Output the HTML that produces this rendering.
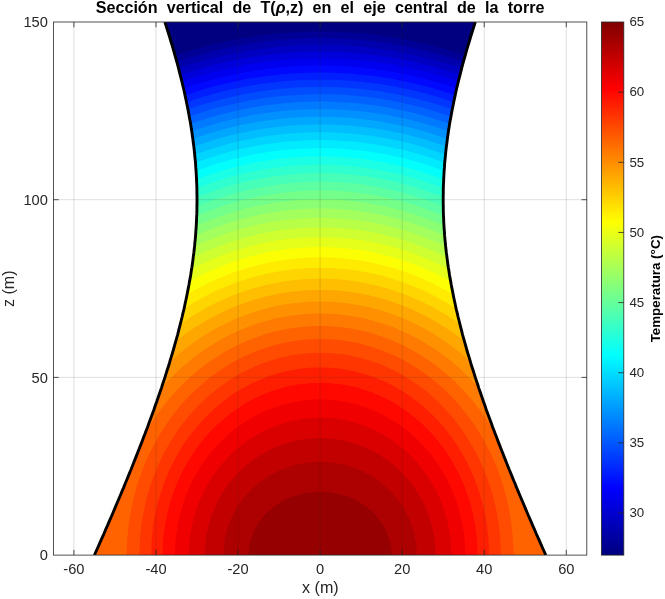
<!DOCTYPE html>
<html lang="es"><head><meta charset="utf-8"><title>Sección vertical de T(ρ,z)</title>
<style>html,body{margin:0;padding:0;background:#fff}svg{display:block}</style></head>
<body>
<svg width="665" height="599" viewBox="0 0 665 599">
<defs><clipPath id="tw"><polygon points="94.4,555.1 96,551.5 97.6,548 99.2,544.4 100.7,540.9 102.3,537.3 103.9,533.8 105.4,530.2 107,526.7 108.5,523.1 110,519.6 111.6,516 113.1,512.5 114.6,508.9 116.1,505.3 117.6,501.8 119.1,498.2 120.6,494.7 122.1,491.1 123.6,487.6 125,484 126.5,480.5 128,476.9 129.4,473.4 130.9,469.8 132.3,466.2 133.7,462.7 135.1,459.1 136.5,455.6 137.9,452 139.3,448.5 140.7,444.9 142.1,441.4 143.4,437.8 144.8,434.3 146.1,430.7 147.5,427.2 148.8,423.6 150.1,420 151.4,416.5 152.7,412.9 154,409.4 155.2,405.8 156.5,402.3 157.7,398.7 158.9,395.2 160.2,391.6 161.4,388.1 162.5,384.5 163.7,381 164.9,377.4 166,373.8 167.1,370.3 168.3,366.7 169.4,363.2 170.4,359.6 171.5,356.1 172.6,352.5 173.6,349 174.6,345.4 175.6,341.9 176.6,338.3 177.6,334.8 178.5,331.2 179.4,327.6 180.3,324.1 181.2,320.5 182.1,317 182.9,313.4 183.8,309.9 184.6,306.3 185.3,302.8 186.1,299.2 186.8,295.7 187.5,292.1 188.2,288.6 188.9,285 189.5,281.4 190.2,277.9 190.8,274.3 191.3,270.8 191.9,267.2 192.4,263.7 192.9,260.1 193.3,256.6 193.8,253 194.2,249.5 194.6,245.9 194.9,242.3 195.3,238.8 195.6,235.2 195.8,231.7 196.1,228.1 196.3,224.6 196.5,221 196.6,217.5 196.8,213.9 196.9,210.4 196.9,206.8 197,203.3 197,199.7 197,196.1 196.9,192.6 196.9,189 196.8,185.5 196.6,181.9 196.5,178.4 196.3,174.8 196.1,171.3 195.8,167.7 195.6,164.2 195.3,160.6 194.9,157.1 194.6,153.5 194.2,149.9 193.8,146.4 193.3,142.8 192.9,139.3 192.4,135.7 191.9,132.2 191.3,128.6 190.8,125.1 190.2,121.5 189.5,118 188.9,114.4 188.2,110.8 187.5,107.3 186.8,103.7 186.1,100.2 185.3,96.6 184.6,93.1 183.8,89.5 182.9,86 182.1,82.4 181.2,78.9 180.3,75.3 179.4,71.8 178.5,68.2 177.6,64.6 176.6,61.1 175.6,57.5 174.6,54 173.6,50.4 172.6,46.9 171.5,43.3 170.4,39.8 169.4,36.2 168.3,32.7 167.1,29.1 166,25.6 164.9,22 475.3,22 474.2,25.6 473.1,29.1 471.9,32.7 470.8,36.2 469.8,39.8 468.7,43.3 467.6,46.9 466.6,50.4 465.6,54 464.6,57.5 463.6,61.1 462.6,64.6 461.7,68.2 460.8,71.8 459.9,75.3 459,78.9 458.1,82.4 457.3,86 456.4,89.5 455.6,93.1 454.9,96.6 454.1,100.2 453.4,103.7 452.7,107.3 452,110.8 451.3,114.4 450.7,118 450,121.5 449.4,125.1 448.9,128.6 448.3,132.2 447.8,135.7 447.3,139.3 446.9,142.8 446.4,146.4 446,149.9 445.6,153.5 445.3,157.1 444.9,160.6 444.6,164.2 444.4,167.7 444.1,171.3 443.9,174.8 443.7,178.4 443.6,181.9 443.4,185.5 443.3,189 443.3,192.6 443.2,196.1 443.2,199.7 443.2,203.3 443.3,206.8 443.3,210.4 443.4,213.9 443.6,217.5 443.7,221 443.9,224.6 444.1,228.1 444.4,231.7 444.6,235.2 444.9,238.8 445.3,242.3 445.6,245.9 446,249.5 446.4,253 446.9,256.6 447.3,260.1 447.8,263.7 448.3,267.2 448.9,270.8 449.4,274.3 450,277.9 450.7,281.4 451.3,285 452,288.6 452.7,292.1 453.4,295.7 454.1,299.2 454.9,302.8 455.6,306.3 456.4,309.9 457.3,313.4 458.1,317 459,320.5 459.9,324.1 460.8,327.6 461.7,331.2 462.6,334.8 463.6,338.3 464.6,341.9 465.6,345.4 466.6,349 467.6,352.5 468.7,356.1 469.8,359.6 470.8,363.2 471.9,366.7 473.1,370.3 474.2,373.8 475.3,377.4 476.5,381 477.7,384.5 478.8,388.1 480,391.6 481.3,395.2 482.5,398.7 483.7,402.3 485,405.8 486.2,409.4 487.5,412.9 488.8,416.5 490.1,420 491.4,423.6 492.7,427.2 494.1,430.7 495.4,434.3 496.8,437.8 498.1,441.4 499.5,444.9 500.9,448.5 502.3,452 503.7,455.6 505.1,459.1 506.5,462.7 507.9,466.2 509.3,469.8 510.8,473.4 512.2,476.9 513.7,480.5 515.2,484 516.6,487.6 518.1,491.1 519.6,494.7 521.1,498.2 522.6,501.8 524.1,505.3 525.6,508.9 527.1,512.5 528.6,516 530.2,519.6 531.7,523.1 533.2,526.7 534.8,530.2 536.3,533.8 537.9,537.3 539.5,540.9 541,544.4 542.6,548 544.2,551.5 545.8,555.1"/></clipPath>
<clipPath id="ax"><rect x="53.4" y="22.0" width="533.4" height="533.1"/></clipPath>
<linearGradient id="jet" x1="0" y1="0" x2="0" y2="1"><stop offset="0.0000" stop-color="#800000"/><stop offset="0.0312" stop-color="#9f0000"/><stop offset="0.0625" stop-color="#bf0000"/><stop offset="0.0938" stop-color="#df0000"/><stop offset="0.1250" stop-color="#ff0000"/><stop offset="0.1562" stop-color="#ff2000"/><stop offset="0.1875" stop-color="#ff4000"/><stop offset="0.2188" stop-color="#ff6000"/><stop offset="0.2500" stop-color="#ff8000"/><stop offset="0.2812" stop-color="#ff9f00"/><stop offset="0.3125" stop-color="#ffbf00"/><stop offset="0.3438" stop-color="#ffdf00"/><stop offset="0.3750" stop-color="#ffff00"/><stop offset="0.4062" stop-color="#dfff20"/><stop offset="0.4375" stop-color="#bfff40"/><stop offset="0.4688" stop-color="#9fff60"/><stop offset="0.5000" stop-color="#80ff80"/><stop offset="0.5312" stop-color="#60ff9f"/><stop offset="0.5625" stop-color="#40ffbf"/><stop offset="0.5938" stop-color="#20ffdf"/><stop offset="0.6250" stop-color="#00ffff"/><stop offset="0.6562" stop-color="#00dfff"/><stop offset="0.6875" stop-color="#00bfff"/><stop offset="0.7188" stop-color="#009fff"/><stop offset="0.7500" stop-color="#0080ff"/><stop offset="0.7812" stop-color="#0060ff"/><stop offset="0.8125" stop-color="#0040ff"/><stop offset="0.8438" stop-color="#0020ff"/><stop offset="0.8750" stop-color="#0000ff"/><stop offset="0.9062" stop-color="#0000df"/><stop offset="0.9375" stop-color="#0000bf"/><stop offset="0.9688" stop-color="#00009f"/><stop offset="1.0000" stop-color="#000080"/></linearGradient></defs>
<rect width="665" height="599" fill="#fff"/>
<g clip-path="url(#ax)"><g clip-path="url(#tw)" shape-rendering="geometricPrecision">
<rect x="53" y="22" width="534" height="534" fill="#000080"/>
<path fill="#000096" d="M73.9,562.2 566.3,562.2 566.3,78.1 558.1,77.4 549.9,76.9 541.7,76.6 523.2,76.1 519.1,75.9 517,75.8 515,75.5 512.9,74.8 504.7,71.1 496.5,67.5 488.3,64.1 480.1,60.9 469.9,57.1 459.6,53.7 451.4,51.1 443.2,48.6 435,46.4 426.8,44.3 418.6,42.4 410.4,40.6 402.2,39 394,37.5 385.5,36.2 377.5,35.1 369.3,34.1 361.1,33.3 352.9,32.6 344.7,32.1 336.5,31.7 328.3,31.5 320.1,31.4 311.9,31.5 303.7,31.7 295.5,32.1 285.2,32.8 277,33.5 266.8,34.6 258.6,35.7 250.3,36.9 242.1,38.2 233.9,39.8 225.4,41.5 217.5,43.3 209.3,45.3 201.1,47.5 192.9,49.8 184.7,52.3 176.5,55 168.3,57.9 159.6,61.1 149.8,64.9 141.6,68.4 133.4,72 127.3,74.8 125.2,75.5 123.2,75.8 119,76.1 102.6,76.5 94.4,76.7 86.2,77.2 78,77.7 73.9,78.1 73.9,562.2Z"/>
<path fill="#0000ad" d="M73.9,562.2 566.3,562.2 566.3,85.5 558.1,84.8 549.9,84.3 541.7,83.9 523.2,83.4 519.1,83.3 517,83.1 515,82.8 512.9,82.1 504.7,78.3 496.5,74.7 488.3,71.2 480.1,68 471.2,64.6 463.7,62 455.5,59.3 447.3,56.8 437,53.8 428.8,51.7 420.6,49.7 412.4,47.8 404.2,46.2 396,44.7 387.8,43.3 379.6,42.1 371.4,41.1 363.2,40.2 355,39.5 346.8,38.9 338.6,38.5 330.4,38.2 322.2,38.1 313.9,38.1 305.7,38.3 297.5,38.7 289.3,39.2 281.1,39.8 272.9,40.6 264.7,41.6 256.5,42.7 248.3,44 240.1,45.4 231.9,47 223.7,48.7 215.5,50.6 207.3,52.7 199.1,55 190.3,57.5 182.6,60 174,62.9 166.2,65.7 158,68.8 149.8,72.1 141.6,75.6 133.4,79.2 127.3,82.1 125.2,82.8 123.2,83.1 119,83.4 102.6,83.8 94.4,84.1 86.2,84.5 78,85.1 73.9,85.5 73.9,562.2Z"/>
<path fill="#0000c3" d="M73.9,562.2 566.3,562.2 566.3,93 558.1,92.3 549.9,91.8 541.7,91.4 523.2,90.9 519.1,90.7 517,90.5 515,90.2 512.9,89.5 504.7,85.6 496.5,81.9 488.3,78.4 480.1,75.1 471.2,71.8 463.7,69.1 455.5,66.3 447.3,63.8 437,60.8 428.8,58.6 420.6,56.6 412.4,54.7 404.2,53 396,51.5 387.8,50.1 379.6,48.9 371.4,47.9 361.1,46.8 352.9,46.1 344.7,45.5 334.5,45.1 326.3,44.9 318,44.8 309.8,44.9 301.6,45.2 293.4,45.6 285.2,46.2 277,47 268.8,47.9 260.6,48.9 252.4,50.1 244.2,51.5 236,53 227.8,54.7 219.6,56.6 211.4,58.6 201.1,61.4 192.9,63.8 184.4,66.4 176.5,69.1 168.3,72 159.6,75.3 149.8,79.3 141.6,82.8 133.4,86.6 127.2,89.5 125.2,90.2 123.2,90.5 119,90.8 102.6,91.2 94.4,91.6 86.2,92 78,92.6 73.9,93 73.9,562.2Z"/>
<path fill="#0000da" d="M73.9,562.2 566.3,562.2 566.3,100.6 558.1,99.9 549.9,99.3 541.7,98.9 523.2,98.4 519.1,98.2 517,98 515,97.7 512.9,97 504.7,93 496.5,89.3 488.3,85.7 480.1,82.4 469.9,78.5 461,75.3 453.4,72.8 443.2,69.6 435,67.2 426.8,65.1 416.5,62.6 408.3,60.8 400.1,59.1 389.9,57.3 381.6,56.1 373.4,55 364.9,54 357,53.2 348.8,52.6 340.6,52.1 332.4,51.8 324.2,51.7 316,51.7 307.8,51.8 299.6,52.1 291.4,52.6 283.2,53.2 275,54 266.8,55 258.6,56.1 248.3,57.7 238,59.5 229.8,61.2 221.6,63.1 213.4,65.1 205.2,67.2 195,70.2 186.8,72.8 178.5,75.5 168.3,79.2 160,82.4 151.3,86 143.1,89.5 135.4,93.1 127.3,97 125.2,97.7 123.2,98 119,98.3 102.6,98.8 94.4,99.1 86.2,99.6 78,100.2 73.9,100.6 73.9,562.2Z"/>
<path fill="#0000f1" d="M73.9,562.2 566.3,562.2 566.3,108.3 558.1,107.6 549.9,107 541.7,106.6 523.2,106 519.1,105.8 516.6,105.5 515,105.2 512.9,104.6 506.8,101.5 498.6,97.7 492.3,94.9 484,91.3 474,87.3 465.6,84.2 457.6,81.4 449.3,78.7 441.1,76.1 430.9,73.2 422.7,71.1 414.5,69.2 406.3,67.4 398.1,65.8 389.9,64.3 379.6,62.7 371.4,61.6 363.2,60.7 355,60 344.7,59.2 336.5,58.8 328.3,58.6 320.1,58.5 311.9,58.6 303.7,58.8 293.4,59.4 285.2,60 277,60.7 268.8,61.6 258.6,63 250.3,64.3 242.1,65.8 233.9,67.4 225.7,69.2 217.5,71.1 207.3,73.8 199.1,76.1 190.2,78.9 182.6,81.4 174.4,84.2 164.2,88.1 156,91.4 147.8,94.9 139.6,98.6 131.4,102.5 127.3,104.6 125.2,105.2 123.2,105.6 119,105.9 102.6,106.4 94.4,106.8 85.7,107.3 78,107.9 73.9,108.3 73.9,562.2Z"/>
<path fill="#0008ff" d="M73.9,562.2 566.3,562.2 566.3,116.1 558.1,115.4 549.9,114.8 541.7,114.3 529.4,113.9 523.2,113.7 519.1,113.5 517,113.3 515,113 512.9,112.3 506.6,109.1 498.6,105.2 490.4,101.5 482.2,98 474,94.7 465,91.3 457.6,88.7 449.3,85.9 441.1,83.4 430.9,80.4 422.7,78.3 414.5,76.3 406.3,74.5 398.1,72.8 389.9,71.4 381.1,70 373.4,68.9 365.2,67.9 357,67.1 346.8,66.3 338.6,65.9 330.4,65.6 322.2,65.5 313.9,65.5 305.7,65.7 297.5,66.1 289.3,66.6 281.1,67.3 272.6,68.2 264.7,69.2 256.5,70.4 248,71.8 240.1,73.2 231.9,74.9 221.6,77.2 213.4,79.3 205.2,81.6 196.3,84.2 188.8,86.6 180.2,89.5 172.4,92.4 164.2,95.5 156,98.9 147.8,102.4 139.6,106.2 133.4,109.2 127.3,112.3 125.2,113 123.2,113.3 119,113.6 102.6,114.2 94.4,114.5 86.2,115.1 78,115.7 73.9,116.1 73.9,562.2Z"/>
<path fill="#001fff" d="M73.9,562.2 566.3,562.2 566.3,124.1 558,123.3 549.9,122.7 541.7,122.2 531.4,121.8 521.2,121.5 517,121.1 515,120.8 512.9,120.1 504.7,115.9 496.5,112 490.2,109.1 482,105.5 473.3,102 465.8,99 457.6,96.1 448.7,93.1 441.1,90.7 432.9,88.3 424.5,86 416.5,84 408.3,82.1 400.1,80.4 391.9,78.8 383.7,77.5 375.5,76.3 367.3,75.3 359.1,74.4 350.9,73.7 342.7,73.2 334.5,72.8 326.3,72.6 318,72.5 309.8,72.7 301.6,73 293.4,73.4 285.2,74 277,74.8 268.8,75.7 260.6,76.9 252.4,78.1 244.2,79.6 236,81.2 227.8,83 219.6,85 211.4,87.1 202.9,89.5 195,92 186.1,94.9 178.5,97.5 170.3,100.6 162.1,103.9 153.9,107.3 145.7,111 137.5,114.9 131.3,118 127.3,120.1 125.2,120.8 123.2,121.1 119,121.5 102.6,122 94.4,122.4 86.2,123 78,123.7 73.9,124.1 73.9,562.2Z"/>
<path fill="#0036ff" d="M73.9,562.2 566.3,562.2 566.3,132.2 558.1,131.3 549.9,130.7 541.7,130.2 531.4,129.8 523.2,129.5 519.1,129.3 517,129.1 514.8,128.6 512.9,128 506.8,124.8 498.6,120.7 492.4,117.8 484.2,114.1 476,110.7 467.6,107.3 459.6,104.3 451.4,101.4 441.1,98.1 432.9,95.6 422.7,92.8 414.5,90.8 406.3,88.9 398.1,87.2 389.9,85.7 379.6,84.1 371.4,82.9 363.2,82 355,81.2 346.8,80.5 338.6,80.1 330.4,79.8 322.2,79.7 313.9,79.7 305.7,79.9 297.5,80.3 289.3,80.8 281.1,81.5 272.9,82.4 264.7,83.5 256.5,84.7 248.3,86.1 239.5,87.7 229.8,89.8 221.6,91.8 213.4,93.9 205.2,96.2 197,98.7 188.8,101.4 180.6,104.3 172.4,107.4 166.2,109.8 158,113.2 149.8,116.9 143.7,119.7 135.5,123.7 129.3,126.9 127.3,128 125.2,128.7 123.2,129.1 119,129.4 102.6,130 94.4,130.5 86.2,131 78,131.7 73.9,132.2 73.9,562.2Z"/>
<path fill="#004dff" d="M73.9,562.2 566.3,562.2 566.3,140.4 558.1,139.5 549.9,138.9 541.7,138.4 531.4,137.9 523.2,137.6 519.1,137.4 517,137.1 515,136.8 512.9,136 504.7,131.7 498.6,128.6 490.4,124.7 482.2,121 474,117.5 465.8,114.2 459.6,111.9 451.4,109 443.2,106.3 435,103.7 426.8,101.4 418.6,99.2 410.4,97.2 402.2,95.4 394,93.8 385.7,92.3 377.5,91 369.3,89.9 361.1,89 352.9,88.2 344.7,87.6 336.5,87.2 328.3,87 320.1,86.9 311.9,87 303.7,87.2 295.5,87.6 287.3,88.2 279.1,89 270.9,89.9 262.7,91 254.5,92.3 246.2,93.8 238,95.4 229.8,97.2 221.6,99.2 213.4,101.4 205.1,103.7 197,106.3 188.6,109.1 180.6,111.9 172.4,115 164.2,118.4 156,121.9 147.8,125.7 141.6,128.6 133.4,132.8 127.3,136 125.2,136.8 123.2,137.1 118.9,137.5 102.6,138.2 94.4,138.6 84.2,139.4 76,140.1 73.9,140.4 73.9,562.2Z"/>
<path fill="#0063ff" d="M73.9,562.2 566.3,562.2 566.3,148.7 558.1,147.9 549.9,147.2 541.7,146.6 531.4,146.2 523.2,145.8 519.1,145.6 517,145.3 515,145 512.9,144.2 506.8,140.9 500.3,137.5 492.4,133.6 484.2,129.8 476,126.2 467.8,122.8 459.6,119.6 453.4,117.4 444.8,114.4 437,111.9 428.8,109.5 420.6,107.2 412.4,105.2 404.2,103.3 396,101.6 387.8,100.1 379.6,98.7 371.4,97.5 363.2,96.6 355,95.7 346.8,95.1 338.6,94.6 330.4,94.3 322.2,94.2 313.9,94.2 305.7,94.5 297.2,94.9 289.3,95.4 281.1,96.1 272.9,97 264.7,98.1 256.5,99.4 248.3,100.8 240.1,102.4 231.9,104.2 223.7,106.2 215.5,108.3 206.7,110.8 199.1,113.2 190.2,116.2 182.6,118.9 174.4,122 166.2,125.3 158,128.9 149.8,132.7 143.5,135.7 135.5,139.8 129.3,143.1 127.3,144.2 125.2,145 123.2,145.3 121.1,145.6 117,145.8 102.6,146.4 94.4,146.9 86.2,147.5 78,148.3 73.9,148.7 73.9,562.2Z"/>
<path fill="#007aff" d="M73.9,562.2 566.3,562.2 566.3,157.2 558.1,156.3 549.9,155.6 541.7,155 531.4,154.5 523.2,154.2 519.1,153.9 516.1,153.5 515,153.3 512.9,152.5 506.8,149.1 500.6,145.9 494.5,142.8 486.3,138.8 478.1,135.1 469.9,131.6 461.7,128.3 455.5,125.9 447.3,123 441.1,120.9 432.9,118.4 424.7,116 416.5,113.8 408.3,111.8 400.1,109.9 391.9,108.3 383.7,106.8 375.1,105.5 367.3,104.5 359.1,103.6 350.9,102.8 342.7,102.2 334.5,101.9 326.3,101.6 318,101.6 309.8,101.7 301.6,102 293.4,102.5 285.2,103.2 277,104 268.8,105 260.6,106.2 252.4,107.5 244.2,109.1 235.9,110.8 227.8,112.7 219.6,114.8 211.4,117.1 202.8,119.7 195,122.3 186.8,125.2 180.6,127.5 172.4,130.7 164.2,134.2 156,137.8 147.8,141.7 141.6,144.8 135.2,148.2 127.3,152.5 125.2,153.3 123.2,153.7 121.1,153.9 117,154.2 102.6,154.8 94.4,155.3 86.2,155.9 78,156.8 73.9,157.2 73.9,562.2Z"/>
<path fill="#0090ff" d="M73.9,562.2 566.3,562.2 566.3,165.9 558.1,165 549.4,164.2 541.7,163.6 531.4,163.1 523.2,162.7 518.9,162.4 517,162.2 515,161.8 512.9,161 504.7,156.4 498.6,153.1 492.4,149.9 484.2,146 476,142.3 467.8,138.7 459.6,135.4 453.4,133.1 445.2,130.2 439.1,128.1 432.9,126.1 426.8,124.3 418.6,122 409.6,119.7 401.9,118 393.3,116.2 385.7,114.8 377.5,113.4 369.3,112.3 361.1,111.3 352.9,110.5 344.7,109.9 336.5,109.4 328.3,109.2 320.1,109.1 311.9,109.2 303.7,109.4 295.5,109.9 287.3,110.5 279.1,111.3 270.9,112.3 262.7,113.4 254.5,114.8 246.2,116.3 238,118 229.8,119.9 221.6,122 215.5,123.7 209.3,125.5 203.2,127.4 197,129.5 188.8,132.3 182.6,134.6 174.4,137.9 166.2,141.4 158,145 151.5,148.2 143.7,152.1 137.5,155.3 131,158.8 127.3,161 125.2,161.8 123.2,162.2 121.1,162.4 117,162.7 102.6,163.4 94.4,163.9 86.2,164.6 78,165.4 73.9,165.9 73.9,562.2Z"/>
<path fill="#00a7ff" d="M73.9,562.2 566.3,562.2 566.3,174.7 558.1,173.7 549.9,173 541.7,172.3 531.4,171.8 523.2,171.4 519.1,171.1 517,170.8 515,170.4 512.8,169.5 506.6,165.9 498.6,161.6 492.4,158.4 486.2,155.3 478.1,151.4 469.9,147.8 461.7,144.3 455.5,141.9 447.3,138.9 441.1,136.7 435,134.7 426.8,132.2 420.6,130.4 412.4,128.2 406.3,126.7 398.1,124.9 389.9,123.2 381.6,121.8 373.4,120.5 365.2,119.4 357,118.5 348.8,117.8 340.6,117.2 332.4,116.9 324.2,116.7 316,116.7 307.8,116.9 299.6,117.2 291.4,117.8 283.2,118.5 275,119.4 266.8,120.5 258.6,121.8 250,123.3 240.1,125.3 231.9,127.2 225.7,128.7 219.6,130.4 213.4,132.2 207.3,134 201.1,136 195,138.1 186.8,141.1 180.6,143.5 172.4,146.9 164.2,150.5 157.7,153.5 149.8,157.3 143.4,160.6 135.5,164.9 129.3,168.4 127.3,169.6 125.2,170.4 123.2,170.8 121.1,171.1 117,171.4 102.6,172.1 94.4,172.6 86.2,173.3 78,174.2 73.9,174.7 73.9,562.2Z"/>
<path fill="#00beff" d="M73.9,562.2 566.3,562.2 566.3,183.7 558.1,182.7 549.9,181.9 541.7,181.2 531.4,180.6 522.4,180.2 519.1,179.9 517,179.6 515,179.2 512.9,178.4 506.8,174.7 500.6,171.3 494,167.7 486.3,163.8 479.8,160.6 471.9,157 465.8,154.3 459.6,151.7 453.4,149.3 445.2,146.2 439.1,144.1 432.9,142.1 426.8,140.1 420.6,138.4 414.5,136.7 408.3,135.1 402.2,133.6 394,131.9 385.7,130.3 377.5,128.9 369.3,127.7 361.1,126.7 352.9,125.8 344.7,125.2 336.5,124.7 328.3,124.5 320.1,124.4 311.9,124.5 303.7,124.7 295.5,125.2 287.3,125.8 279.1,126.7 270.9,127.7 262.7,128.9 253.8,130.4 246.2,131.9 238,133.6 229.4,135.7 221.6,137.8 215.5,139.5 209.3,141.4 203.2,143.4 197,145.5 188.8,148.5 182.6,150.9 176.3,153.5 170.3,156.1 164.2,158.8 156,162.7 149.6,165.9 141.6,170.2 135.5,173.6 129.3,177.1 127.2,178.4 125.2,179.2 123.2,179.6 121.1,179.9 117,180.2 102.6,181 94.4,181.5 86.2,182.3 78,183.2 73.9,183.7 73.9,562.2Z"/>
<path fill="#00d4ff" d="M73.9,562.2 566.3,562.2 566.3,192.9 560.1,192.1 551.9,191.2 543.7,190.5 535.5,189.9 523.2,189.2 519.1,188.9 517,188.6 515,188.2 512.9,187.3 506.8,183.6 500.6,180.1 494.4,176.6 486.3,172.4 480.1,169.3 471.9,165.4 463.7,161.8 455.5,158.4 449.3,156 441.1,153 435,150.9 428.8,148.9 422.7,147 416.5,145.3 410.4,143.6 404.2,142.1 398.1,140.7 389.9,139 381.6,137.5 373.4,136.1 365.2,135 355,133.9 346.8,133.2 338.6,132.7 330.4,132.3 322.2,132.2 313.9,132.2 305.7,132.5 297.5,132.9 289.3,133.5 281.1,134.3 272.9,135.3 264.7,136.5 256.5,137.8 248.3,139.4 240.1,141.1 231.9,143.1 225.7,144.7 219.6,146.4 213.4,148.3 207.3,150.2 201.1,152.3 195,154.5 186.8,157.6 178.5,160.9 170.3,164.5 162.1,168.3 156,171.3 147.8,175.6 141.6,178.9 135.5,182.4 129.3,186.1 127.3,187.3 125.2,188.2 123.2,188.6 119,189.1 102.6,190 94.4,190.6 86.2,191.4 78,192.4 73.9,192.9 73.9,562.2Z"/>
<path fill="#00ebff" d="M73.9,562.2 566.3,562.2 566.3,202.3 558.1,201.2 549.9,200.3 541.7,199.6 531.4,198.9 523.2,198.4 519.1,198.1 517,197.8 515,197.3 512.9,196.5 506.7,192.6 500.6,189 494.4,185.5 487.8,181.9 480.1,178 473.6,174.8 467.8,172.2 461.7,169.4 455.5,166.9 447.3,163.6 441.1,161.3 432.9,158.5 426.8,156.5 420.6,154.6 414.5,152.9 408.3,151.2 402.2,149.7 394,147.9 385.7,146.2 375.5,144.5 367.3,143.3 361.1,142.5 352.9,141.6 344.7,141 336.5,140.5 328.3,140.2 320.1,140.1 311.9,140.2 303.7,140.5 295.5,141 287.3,141.6 279.1,142.5 272.9,143.3 262.7,144.8 253.7,146.4 244.2,148.3 236,150.2 229.8,151.8 223.5,153.5 217.4,155.3 211.4,157.2 205.2,159.2 199.1,161.3 190.9,164.4 184.7,166.9 178.4,169.5 172.4,172.2 166.2,175 158,179 151.9,182.2 145.7,185.5 139.5,189 133.4,192.7 127.3,196.5 125.2,197.3 123.2,197.8 121.1,198.1 117,198.4 102.6,199.3 94.4,199.9 86.2,200.8 80.1,201.5 73.9,202.3 73.9,562.2Z"/>
<path fill="#03fffc" d="M73.9,562.2 566.3,562.2 566.3,212 560.1,211.1 554,210.3 545.8,209.5 537.6,208.8 523.2,207.8 519.1,207.5 517,207.2 515,206.7 512.9,205.8 506.1,201.5 500.2,197.9 494.1,194.4 486.3,190.1 480.1,186.9 473.7,183.7 465.8,180 457.6,176.3 451.4,173.8 445,171.3 439.1,169.1 432.9,166.9 426.8,164.9 420.6,163 414.5,161.2 408.3,159.5 402.2,158 396,156.5 389.9,155.2 383.7,154 377.5,152.9 369.3,151.7 363.2,150.8 355,149.9 346.8,149.2 338.6,148.6 330.4,148.3 322.2,148.2 313.9,148.2 305.7,148.5 297.5,148.9 289.3,149.5 283.2,150.1 277,150.8 268.8,152 262.7,152.9 256.5,154 248.3,155.7 240.1,157.5 233.9,159 227.8,160.6 221.6,162.4 215.5,164.2 209.3,166.2 203.2,168.4 195,171.4 188.8,173.8 180.6,177.2 174,180.2 166.2,183.8 158,187.9 151.9,191.2 145.7,194.6 139.6,198.2 133.4,201.9 127.3,205.8 125.2,206.7 123.2,207.2 121.1,207.5 117,207.8 104.7,208.6 96.5,209.3 88.3,210.1 82.1,210.8 76,211.7 73.9,212 73.9,562.2Z"/>
<path fill="#1affe5" d="M73.9,562.2 566.3,562.2 566.3,221.9 560.1,220.9 554,220.1 545.8,219.2 537.6,218.5 523,217.5 519.1,217.1 517,216.8 515,216.3 512.9,215.4 506.8,211.4 498.6,206.3 492.4,202.7 486.3,199.2 480.1,195.9 473.5,192.6 465.8,188.8 457.6,185.1 449.3,181.7 443.2,179.3 435,176.2 428.8,174.1 422.7,172.1 416.5,170.2 410.4,168.5 404.2,166.9 398.1,165.4 391.9,164 383.7,162.3 377.5,161.2 371.4,160.2 365.2,159.3 359.1,158.6 352.9,157.9 346.8,157.4 340.6,157 334.5,156.6 328.3,156.4 322.2,156.3 316,156.4 309.8,156.5 303.7,156.7 297.5,157.1 291.4,157.5 285.2,158.1 277,159.1 270.9,159.9 264.7,160.9 258.6,161.9 252.4,163.1 246.2,164.4 238,166.4 231.9,167.9 225.7,169.6 219.6,171.5 213.4,173.4 207.3,175.5 199.1,178.5 192.9,180.9 184.7,184.3 176.5,187.9 170.3,190.8 162.1,194.9 156,198.1 149.8,201.5 143.7,205.1 137.5,208.8 131.4,212.7 127.3,215.4 125.2,216.3 123.2,216.8 121.1,217.1 117,217.5 104.7,218.3 96.5,219 90.3,219.6 84.2,220.4 78,221.2 73.9,221.9 73.9,562.2Z"/>
<path fill="#30ffcf" d="M73.9,562.2 566.3,562.2 566.3,232 560.1,231 554,230.2 547.8,229.4 539.6,228.6 523.2,227.4 519.1,227 517,226.6 515,226.1 512.9,225.2 506.8,221 500.6,217.1 494.5,213.3 488.3,209.7 482.2,206.3 476,203 469.4,199.7 461.7,196 453.4,192.3 447.3,189.7 441.1,187.3 435,185 428.8,182.8 422.7,180.8 414.5,178.2 408.3,176.5 401.9,174.8 394,172.9 385.7,171.2 379.6,170 373.4,168.9 367.3,168 361.1,167.2 355,166.5 348.8,165.9 342.7,165.4 336.5,165 330.4,164.8 324.2,164.7 318,164.6 311.9,164.7 305.7,165 299.6,165.3 293.4,165.7 287.3,166.3 281.1,166.9 275,167.7 268.8,168.6 262.7,169.6 256.5,170.8 250.3,172 244.2,173.4 238,174.9 229.8,177.1 223.7,178.9 217.5,180.8 211.4,182.8 203.2,185.7 197,188.1 188.8,191.4 182.1,194.4 176.5,196.9 170.3,199.9 163.7,203.3 156,207.4 149.8,210.9 143.7,214.6 135.5,219.7 127.3,225.2 125.2,226.1 123.2,226.6 121.1,227 117,227.4 104.7,228.3 96.5,229 90.3,229.7 84.2,230.4 78,231.3 73.9,232 73.9,562.2Z"/>
<path fill="#47ffb8" d="M73.9,562.2 566.3,562.2 566.3,242.4 560.1,241.4 554,240.5 547.8,239.7 539,238.8 523.2,237.5 518.8,237 517,236.7 515,236.2 512.9,235.2 506.8,231 499.8,226.4 494.1,222.8 488.2,219.2 482,215.7 475.5,212.1 467.8,208.2 461.3,205 455.5,202.3 449.3,199.7 443.2,197.1 435,193.9 428.8,191.7 420.6,188.9 414.5,187 408.3,185.2 402.2,183.6 394,181.6 387.6,180.2 381.6,179 375.5,177.8 367.3,176.5 361.1,175.7 352.9,174.8 346.8,174.2 340.6,173.7 334.5,173.4 328.3,173.2 322.2,173.1 316,173.1 309.8,173.3 303.7,173.5 297.5,173.9 291.4,174.4 285.2,175 279.1,175.7 270.9,176.8 264.7,177.8 258.6,179 252.4,180.2 244.2,182 236,184.1 229.8,185.8 223.7,187.6 217.5,189.6 211.4,191.7 203.2,194.7 197,197.1 190.7,199.7 184.7,202.3 178.5,205.2 170.3,209.2 164.2,212.4 158,215.8 151.9,219.3 145.7,223 139.6,226.9 131.4,232.4 127.2,235.2 125.2,236.2 123.2,236.7 121.1,237.1 117,237.5 104.7,238.5 96.5,239.3 90.3,240 84.2,240.8 78,241.7 73.9,242.4 73.9,562.2Z"/>
<path fill="#5effa2" d="M73.9,562.2 566.3,562.2 566.3,253.2 560.1,252.1 554,251.1 547.8,250.3 539.6,249.4 523.2,247.9 519.1,247.5 517,247.1 515,246.6 512.9,245.5 506,240.6 500.6,237 494.5,233 488.3,229.1 482.2,225.5 476,222 469.9,218.7 463.7,215.6 455.5,211.7 447.3,208 439.1,204.6 432.9,202.3 424.7,199.3 418.6,197.2 412.4,195.3 406.3,193.5 400.1,191.9 394,190.4 387.8,189 381.6,187.7 375.5,186.5 369.1,185.5 363.2,184.6 355,183.6 348.8,183 342.7,182.5 336.5,182.1 330.4,181.9 324.2,181.7 318,181.7 311.9,181.8 305.7,182 299.6,182.4 293.4,182.8 287.3,183.4 281.1,184.1 275,184.9 268.8,185.9 260.6,187.3 254.5,188.5 248.3,189.9 242.1,191.4 236,193 229.8,194.7 223.7,196.6 217.5,198.6 211.4,200.7 203.2,203.8 195,207.2 186.8,210.7 180,213.9 172.4,217.7 166,221 159.6,224.6 153.5,228.1 147.7,231.7 141.6,235.6 133.4,241.1 127.3,245.5 125.2,246.6 123.2,247.1 121.1,247.5 117,247.9 104.7,249 96.5,249.8 90.3,250.6 84.2,251.4 78,252.4 73.9,253.2 73.9,562.2Z"/>
<path fill="#74ff8b" d="M73.9,562.2 566.3,562.2 566.3,264.2 560.1,263.1 551.9,261.8 545.8,260.9 537.6,260 523.2,258.7 519.1,258.2 517,257.8 515,257.2 512.9,256.2 506.3,251.2 500.6,247.3 492.4,241.8 486.3,237.9 480.1,234.3 474,230.7 467.8,227.4 461.7,224.2 455.1,221 449.3,218.4 443.2,215.7 437,213.2 428.8,210 422.7,207.8 416.5,205.7 410.4,203.8 404.2,202 398.1,200.4 391.9,198.8 385.7,197.5 379.3,196.1 373.4,195.1 367.3,194.1 361.1,193.2 355,192.4 348.8,191.8 342.7,191.3 334.5,190.8 328.3,190.6 322.2,190.5 316,190.5 309.8,190.6 303.7,190.9 297.5,191.3 291.4,191.8 283.2,192.7 277,193.5 270.9,194.4 264.7,195.4 258.6,196.6 252.3,197.9 244.2,199.8 238,201.5 231.7,203.3 225.7,205.1 219.6,207.1 213.4,209.2 205.2,212.3 199.1,214.8 192.9,217.5 186.8,220.3 180.6,223.2 174.4,226.4 167.8,229.9 160.1,234.3 153.9,237.9 147,242.3 141.6,245.9 135.5,250.2 129.1,254.8 127.3,256.2 125.2,257.2 123.2,257.8 119,258.5 101.7,260.1 94.4,260.9 86.2,262.1 80.1,263.1 73.9,264.2 73.9,562.2Z"/>
<path fill="#8bff74" d="M73.9,562.2 566.3,562.2 566.3,275.7 558.1,274.1 551.9,273.1 545.8,272.2 539.6,271.4 531.4,270.6 523.2,269.8 519.1,269.2 517,268.8 515,268.2 512.9,267.1 506.1,261.9 500.6,257.9 493.5,253 488.1,249.5 482.2,245.7 476,242 469.9,238.5 463.7,235.2 456.9,231.7 451.4,229 445.2,226.2 439.1,223.6 432.9,221 426.8,218.7 420.6,216.5 412.4,213.7 406.3,211.9 400.1,210.1 394,208.5 385.7,206.6 377.5,204.9 371.4,203.8 365.2,202.8 359.1,201.9 352.9,201.2 346.8,200.6 340.6,200.1 332.4,199.6 326.3,199.5 320.1,199.4 313.9,199.5 305.7,199.7 299.6,200.1 293.4,200.6 287.3,201.2 281.1,201.9 275,202.8 268.8,203.8 260.6,205.3 252.4,207 245.9,208.6 238,210.7 231.9,212.5 225.7,214.4 219.6,216.5 211.4,219.4 205.2,221.9 198.7,224.6 192.9,227.1 186.8,230 179.8,233.5 172.4,237.4 166.2,240.8 160.1,244.4 153.9,248.3 145.7,253.6 139,258.3 133.4,262.4 129.3,265.5 127.1,267.2 125.2,268.2 123.2,268.8 121.1,269.2 117,269.8 104.7,271 96.5,271.9 90.3,272.8 84.2,273.8 78,274.9 73.9,275.7 73.9,562.2Z"/>
<path fill="#a2ff5e" d="M73.9,562.2 566.3,562.2 566.3,287.6 560.1,286.3 551.9,284.8 545.8,283.9 539.6,283.1 531.4,282.1 523.2,281.3 519.1,280.7 517,280.3 515,279.6 512.9,278.5 506.8,273.6 500.6,268.9 494.5,264.5 488.2,260.1 482.2,256.2 476,252.4 469.9,248.8 463.7,245.4 457.6,242.1 450.9,238.8 445.2,236.1 439.1,233.3 432.9,230.8 426.3,228.1 420.6,226 414.5,223.9 408.3,221.9 402.2,220.1 396,218.4 389.9,216.8 383.7,215.4 375.5,213.7 369.3,212.6 363.2,211.7 357,210.8 350.9,210.1 344.7,209.5 338.6,209.1 332.4,208.8 326.3,208.6 320.1,208.5 313.7,208.6 307.8,208.8 301.6,209.1 295.5,209.5 289.3,210.1 283.2,210.8 277,211.7 270.9,212.6 262.7,214.1 254.5,215.9 246.2,217.9 240.1,219.5 233.9,221.3 227.8,223.2 221.6,225.3 213.4,228.3 207.3,230.8 200.8,233.5 195,236.1 188.8,239 182.2,242.3 174.4,246.5 168.3,250 162.1,253.7 156,257.5 149.4,261.9 143.7,265.9 139.4,269 132.4,274.3 127.3,278.5 125.1,279.7 123.2,280.3 121.1,280.7 117,281.3 104.7,282.6 98.5,283.3 92.4,284.2 86.2,285.2 80.1,286.3 73.9,287.6 73.9,562.2Z"/>
<path fill="#b8ff47" d="M73.9,562.2 566.3,562.2 566.3,300 560.1,298.7 554,297.4 547.8,296.4 541.7,295.4 533.5,294.4 523.2,293.2 519.1,292.6 517,292.1 515,291.4 512.9,290.2 508.8,286.8 504.4,283.2 497.5,277.9 492.4,274.1 486.3,269.8 479.7,265.4 474,261.8 467.8,258.2 461.7,254.7 455.3,251.2 447.3,247.2 440.7,244.1 435,241.6 428.2,238.8 422.7,236.6 416.5,234.4 410.4,232.3 402.2,229.7 396,228 389.7,226.4 381.6,224.5 375.5,223.2 369.3,222.1 362.9,221 357,220.2 350.9,219.5 344.7,218.9 338.6,218.4 332.4,218.1 326.3,217.9 320.1,217.8 313.9,217.9 307.8,218.1 301.6,218.4 295.5,218.9 289.3,219.5 283.2,220.2 277,221.1 270.9,222.1 264.7,223.2 258.1,224.6 252.4,225.9 246.2,227.4 240.1,229.1 233.9,231 225.7,233.7 219.6,235.9 211.4,239 205.2,241.6 199.1,244.3 190.9,248.2 184.7,251.4 178.3,254.8 172.1,258.3 166.1,261.9 160.1,265.7 153.9,269.8 149.8,272.7 142.7,277.9 137.5,281.8 133.4,285.1 129.2,288.6 127.1,290.3 125.2,291.4 123.2,292.1 121.1,292.6 117,293.2 104.7,294.6 96.5,295.7 90.3,296.7 84.2,297.8 77.5,299.2 73.9,300 73.9,562.2Z"/>
<path fill="#cfff30" d="M73.9,562.2 566.3,562.2 566.3,313 560.1,311.5 554,310.2 547.8,309.1 541.7,308 533.5,306.9 523.2,305.6 519.1,304.9 517,304.4 515,303.7 512.9,302.5 506.8,297.1 502.7,293.7 498.5,290.3 491.6,285 486.3,281.1 480.1,276.9 476,274.2 469.9,270.3 463.7,266.6 457.6,263.1 451.4,259.8 445,256.6 439.1,253.7 432.9,251 426.8,248.4 420.5,245.9 414.5,243.7 408.3,241.6 402.2,239.6 396,237.8 389.9,236.2 383.7,234.7 377.5,233.3 371.4,232.1 365.2,231 357,229.8 350.9,229 344.7,228.4 338.6,228 332.4,227.6 326.3,227.4 320.1,227.3 313.9,227.4 307.8,227.6 301.6,228 295.5,228.4 289.3,229 281.1,230.1 275,231 268.8,232.1 260.6,233.7 254,235.2 246.2,237.2 240.1,239 233.9,240.9 227.8,243 221.6,245.2 215.1,247.7 209.3,250.1 202.7,253 197,255.7 190.9,258.7 184.7,262 178.4,265.4 172.4,269 166.2,272.8 160.1,276.9 156,279.7 149.8,284.1 143.7,288.8 139.4,292.1 135.1,295.7 128.9,301 127.3,302.5 125.2,303.7 122.7,304.5 121.1,304.9 117,305.6 104.7,307.2 96.5,308.4 90.3,309.4 84.2,310.6 78,312 73.9,313 73.9,562.2Z"/>
<path fill="#e5ff1a" d="M73.9,562.2 566.3,562.2 566.3,326.7 560.1,325.1 554,323.6 547.6,322.3 541.7,321.3 535.5,320.3 523.2,318.6 519.1,317.8 517,317.3 515,316.6 512.9,315.2 508.8,311.4 504.7,307.8 500.6,304.3 496.5,300.9 492.3,297.4 486.3,292.9 480.1,288.4 474,284.2 466.9,279.7 461.1,276.1 454.9,272.6 447.3,268.5 441.1,265.3 432.9,261.5 424.7,257.9 418.6,255.5 411.9,253 406.3,251.1 400.1,249.1 394,247.3 387.8,245.6 381.6,244.1 375.5,242.8 369.3,241.6 363.2,240.5 357,239.6 350.5,238.8 344.7,238.2 338.6,237.7 332.4,237.4 326.3,237.2 320.1,237.1 313.9,237.2 307.8,237.4 301.6,237.7 295.5,238.2 289.3,238.8 283.2,239.6 276.7,240.6 270.9,241.6 264.7,242.8 258.6,244.1 250.3,246.2 244.2,247.9 238,249.7 231.9,251.8 225.7,253.9 218.9,256.6 213.4,258.8 205.2,262.4 198.8,265.4 190.9,269.5 184.7,272.9 178.5,276.5 172.4,280.2 166.2,284.2 162.1,287 155,292.1 149.8,296 145.7,299.2 141.3,302.8 137.1,306.3 133.1,309.9 129.2,313.4 127.3,315.2 125.2,316.6 123.2,317.3 121.1,317.8 117,318.6 104.7,320.3 98.5,321.3 92.4,322.4 86.2,323.6 80.1,325.1 73.9,326.7 73.9,562.2Z"/>
<path fill="#fcff03" d="M73.9,562.2 566.3,562.2 566.3,341.1 560.1,339.3 554,337.8 547.8,336.4 541.7,335.2 535.5,334.1 523.2,332.2 519.1,331.4 517,330.9 515,330.1 512.9,328.6 508.3,324.1 504.5,320.5 500.6,317 496.5,313.4 492.3,309.9 485.6,304.5 480.1,300.4 476,297.4 469.9,293.2 462.7,288.6 456.9,285 450.7,281.4 443.2,277.4 437,274.3 430.9,271.4 424.7,268.7 418.6,266.1 412.2,263.7 406.3,261.5 400.1,259.5 394,257.6 387.8,255.9 381.6,254.4 375.5,253 369.3,251.7 363.2,250.6 357,249.7 350.9,248.9 344.7,248.2 336.5,247.6 330.4,247.3 324.2,247.1 318,247.1 311.9,247.2 305.7,247.5 299.6,247.9 293.4,248.4 287.3,249.1 281.1,250 272.9,251.3 266.8,252.5 260.6,253.9 254.5,255.4 248.3,257 242.1,258.9 236,260.8 229.8,263 223.3,265.4 217.5,267.8 210.7,270.8 205.2,273.3 199.1,276.3 192.7,279.7 186.4,283.2 180.4,286.8 174.4,290.5 168.3,294.6 164.2,297.5 158,301.9 151.9,306.7 147.8,310 143.7,313.5 139.6,317 135.5,320.8 129.3,326.6 127.3,328.6 125.2,330.1 123.2,330.9 121.1,331.4 117,332.2 104.7,334.1 98.5,335.2 91.8,336.5 86.2,337.8 80.1,339.3 73.9,341.1 73.9,562.2Z"/>
<path fill="#ffeb00" d="M73.9,562.2 566.3,562.2 566.3,356.5 559.3,354.3 551.9,352.3 545.3,350.7 539.6,349.6 533.5,348.4 523.2,346.7 519.1,345.8 517,345.2 515,344.4 512.9,342.8 508.6,338.3 504.7,334.4 498.6,328.6 492.4,323.1 486.3,317.8 480.1,312.9 476,309.8 469.9,305.4 465.8,302.5 459.6,298.5 453.4,294.7 447.3,291.1 441.1,287.7 435,284.6 428.5,281.4 422.7,278.8 416.2,276.1 410.4,273.8 404.2,271.6 398.1,269.5 391.9,267.6 385.7,265.9 379.6,264.4 373.4,263 367.3,261.7 361.1,260.6 355,259.7 348.8,258.9 342.7,258.3 336.5,257.8 330.4,257.5 324.2,257.3 318,257.3 311.9,257.4 305.7,257.7 299.6,258.1 293.4,258.7 287.3,259.4 281.1,260.3 275,261.4 268.8,262.5 262.7,263.9 256.3,265.4 249.8,267.2 243.8,269 238,270.9 231.9,273.1 225.7,275.4 219.6,277.9 213.4,280.6 207.3,283.5 200.9,286.8 194.3,290.3 188.1,293.9 182.3,297.4 176.5,301.2 170.3,305.4 166.2,308.3 161.8,311.7 156,316.2 149.8,321.3 143.7,326.7 138.8,331.2 135.1,334.8 131.4,338.5 127.3,342.8 125.2,344.4 123.2,345.2 121.1,345.8 117,346.7 103.7,349 98.5,350 92.4,351.3 86.2,352.8 80.1,354.5 73.9,356.5 73.9,562.2Z"/>
<path fill="#ffd500" d="M73.9,562.2 566.3,562.2 566.3,373.1 562.2,371.6 558.1,370.2 551.9,368.4 545.6,366.7 539.6,365.4 533.5,364.1 523.2,362.2 519.1,361.2 517,360.6 515,359.6 512.8,357.9 508.1,352.5 504.7,349 499.5,343.6 494,338.3 490.2,334.8 486.2,331.2 482,327.6 477.7,324.1 471.9,319.6 467.8,316.6 463.4,313.4 457.6,309.5 451.4,305.6 445.2,301.9 439.1,298.4 432.9,295.2 426.7,292.1 420.6,289.3 414.5,286.7 408.3,284.2 402.2,282 395.4,279.7 389.6,277.9 383.2,276.1 375.5,274.2 369.3,272.8 363.2,271.7 357,270.6 350.9,269.8 342.7,268.9 336.5,268.4 330.4,268.1 324.2,267.9 318,267.9 311.9,268 305.7,268.3 299.6,268.7 293.4,269.3 287.3,270.1 281.1,271 275,272 268.8,273.3 262.7,274.7 256.5,276.2 250.3,278 244.2,279.9 238,282 231.9,284.2 225.5,286.8 219.6,289.3 213.4,292.1 206.3,295.7 199.1,299.5 192.9,303.1 186.8,306.8 180.6,310.8 176.5,313.6 169.4,318.8 164.2,322.8 160.1,326.1 156,329.5 151.9,333.1 147.8,336.8 141.6,342.7 137.2,347.2 131.4,353.4 127.3,358 125.2,359.6 123.2,360.6 120.4,361.4 117,362.2 106.7,364.1 100.6,365.4 94.4,366.8 87.9,368.5 82,370.3 76,372.3 73.9,373.1 73.9,562.2Z"/>
<path fill="#ffbe00" d="M73.9,562.2 566.3,562.2 566.3,391.2 562.2,389.5 558.1,388 551.9,385.9 545.8,384.1 539.6,382.5 531.4,380.7 523.2,379 521.2,378.5 519.1,378 517,377.3 515,376.2 512.9,374.4 508.1,368.5 502.7,362.3 498.6,357.8 493.5,352.5 488,347.2 484.2,343.6 480.1,340 476,336.5 471.8,333 467.2,329.4 461.7,325.3 457.5,322.3 451.4,318.2 445.2,314.3 439.1,310.7 432.9,307.3 426.8,304.1 420.4,301 414.5,298.4 408,295.7 402.2,293.4 396,291.2 389.9,289.3 383.7,287.4 377.5,285.8 371.4,284.4 365.2,283.1 359.1,282 352.9,281 346.8,280.2 340.6,279.6 334.5,279.1 328.3,278.8 322.2,278.7 316,278.7 309.8,278.9 303.7,279.3 297.5,279.8 291.4,280.5 283.2,281.6 277,282.7 270.9,283.9 264.7,285.3 258.6,286.9 252.4,288.6 246.2,290.6 240.1,292.7 233.9,295 227.8,297.5 221.6,300.2 215.5,303.1 209.1,306.3 202.5,309.9 196.4,313.4 190.7,317 184.7,320.9 180.2,324.1 174.4,328.3 170.3,331.5 166.2,334.8 162,338.3 158,341.9 153.9,345.6 149.8,349.5 145,354.3 141.6,357.9 136.7,363.2 131.4,369.4 127.3,374.4 125.2,376.2 122.8,377.4 121.1,378 119,378.5 112.9,379.9 106.7,381.1 99.7,382.7 92.4,384.7 86.2,386.6 82,388.1 76,390.4 73.9,391.2 73.9,562.2Z"/>
<path fill="#ffa700" d="M73.9,562.2 566.3,562.2 566.3,411.5 561.7,409.4 556,407 551.9,405.5 547.8,404 541.7,402.2 535.4,400.5 527.3,398.7 523.2,397.7 519.1,396.6 517,395.9 515,394.7 512.9,392.7 508.2,386.3 504.1,381 499.7,375.6 496.5,372 491.8,366.7 488.3,363.1 483.1,357.9 477.5,352.5 473.6,349 469.4,345.4 462.9,340.1 457.6,336 453.4,333 447.3,328.8 442.7,325.9 437,322.3 432.9,320 426.8,316.6 420.5,313.4 414.5,310.6 408.3,307.9 402.2,305.4 395.2,302.8 389.9,301 383.7,299.1 377.5,297.4 370.7,295.7 365.2,294.5 359.1,293.3 352.9,292.3 346.8,291.5 340.6,290.8 334,290.3 328.3,290 322.2,289.9 316,289.9 309.8,290.1 303.7,290.5 297.5,291 291.4,291.7 285.2,292.6 277,294.1 270.9,295.4 264.7,296.8 258.6,298.5 252.4,300.3 244.2,303.1 238,305.4 231.3,308.1 225.7,310.6 219.6,313.5 215.5,315.5 209.3,318.8 205.2,321.2 199.1,324.9 194.7,327.6 188.8,331.6 184.4,334.8 178.5,339.1 174.4,342.4 170.3,345.8 166.2,349.3 162.1,353 157.1,357.9 153.5,361.4 149.8,365.2 145.2,370.3 140.5,375.6 135.5,381.8 130.7,388.1 127.3,392.7 125.2,394.7 123.2,395.9 121.1,396.6 119,397.2 114.9,398.2 106.7,400 102.6,401.1 98.1,402.3 92.4,404.1 86.2,406.2 82.1,407.8 78,409.6 73.9,411.5 73.9,562.2Z"/>
<path fill="#ff9100" d="M73.9,562.2 566.3,562.2 566.3,435.1 561.5,432.5 558,430.7 554,428.9 549.9,427.1 545.1,425.4 541.7,424.2 537.6,423 533.1,421.8 523.2,419.5 521.2,418.9 519.1,418.3 517,417.4 515,416.2 512.9,413.8 510.2,409.4 506.6,404.1 502.7,398.4 498.6,392.9 494.5,387.6 490.4,382.7 485.8,377.4 482.2,373.5 477.4,368.5 473.8,365 469.9,361.3 465.8,357.6 461.7,354.1 457.6,350.7 453.1,347.2 447.3,342.9 443.2,340 437,336 430.9,332.2 424.7,328.7 418.6,325.4 414.5,323.4 408.3,320.5 404.2,318.7 398.1,316.2 391.9,313.9 385.2,311.7 379.3,309.9 372.8,308.1 367.3,306.8 361.1,305.5 355,304.4 348.8,303.4 342.7,302.7 336.5,302.1 330.4,301.7 324.2,301.5 318,301.5 311.9,301.6 305.7,302 299.6,302.5 293.4,303.2 287.3,304 281.1,305.1 275,306.3 268.8,307.7 262.7,309.4 256.5,311.2 249.7,313.4 244.2,315.4 240.1,317 233.9,319.6 227.8,322.4 223.7,324.4 219.6,326.5 213.4,329.8 207.3,333.4 201.1,337.3 197,340.1 190.9,344.4 186.8,347.5 182.6,350.7 178.3,354.3 174.1,357.9 170.2,361.4 166.2,365.2 161.1,370.3 157.7,373.8 152.8,379.2 149.8,382.7 145.4,388.1 141.2,393.4 137.3,398.7 133.4,404.3 128.9,411.2 127.3,413.8 125.2,416.2 123.2,417.4 121.1,418.3 119,418.9 112.9,420.4 106.7,421.9 102.6,423 98.5,424.2 94.4,425.6 90.3,427.2 86,428.9 82.1,430.7 78,432.8 73.9,435.1 73.9,562.2Z"/>
<path fill="#ff7a00" d="M73.9,562.2 566.3,562.2 566.3,464.8 562.2,461.9 560.1,460.5 557.9,459.1 554,456.9 549.9,454.8 545.8,453 541.7,451.4 537.6,450.1 531.4,448.3 523.2,446.3 521.2,445.6 519.1,444.9 517,443.9 515,442.3 512.9,439.4 510.3,434.3 506.4,427.2 502.2,420 498.6,414.3 494.1,407.6 490.2,402.3 486.2,396.9 481.8,391.6 477.2,386.3 474,382.7 468.9,377.4 465.3,373.8 461.6,370.3 457.6,366.6 453.4,363.1 449.2,359.6 444.6,356.1 439.1,352 434.7,349 428.8,345.2 422.7,341.5 416.5,338 412.4,335.9 406.3,332.9 402.2,331 398.1,329.2 394,327.6 387.8,325.3 383.7,323.9 377.5,321.9 371.4,320.2 365.2,318.7 359.1,317.3 352.9,316.2 346.1,315.2 340.6,314.6 334.5,314 328.3,313.7 322.2,313.5 316,313.5 309.8,313.8 303.7,314.2 297.5,314.8 291.4,315.6 285.2,316.6 279.1,317.8 272.9,319.1 266.8,320.7 260.6,322.5 254.5,324.5 250.3,326 244.2,328.4 240.1,330.1 236,331.9 229.8,334.8 225.7,336.9 219.6,340.3 213.4,343.9 207.3,347.8 202.9,350.7 197,355 192.9,358.1 188.8,361.4 184.6,365 180.6,368.5 176.5,372.3 171.3,377.4 167.8,381 164.2,384.9 159.9,389.8 155.5,395.2 151.3,400.5 147.4,405.8 143.7,411.2 139.1,418.3 135.5,424.2 132.8,428.9 129,436 127.1,439.6 125.2,442.3 123.2,443.9 121,444.9 119,445.6 114.9,446.8 108.2,448.5 104.7,449.5 100.6,450.7 96.5,452.2 92.4,453.9 88.3,455.8 84.2,458 82.1,459.2 78,461.9 73.9,464.8 73.9,562.2Z"/>
<path fill="#ff6300" d="M73.9,562.2 566.3,562.2 566.3,512.4 563.8,508.9 562.2,506.8 559.3,503.6 557.5,501.8 555.7,500 553.6,498.2 551.3,496.5 547.8,494.1 545.8,492.8 541.7,490.7 537.6,488.8 533.5,487.2 527.3,485.1 523.2,483.5 520.6,482.2 519.1,481.4 517,479.8 515,477.4 512.9,473.2 510.4,466.2 508.3,460.9 506.1,455.6 503.7,450.3 500.3,443.1 497.5,437.8 494.5,432.4 491.4,427.2 488.1,421.8 484.2,416.1 479.4,409.4 475.4,404.1 471,398.7 467.8,395 463.1,389.8 459.6,386.2 455.5,382.1 450.4,377.4 445.2,372.9 439.1,367.9 435,364.7 430.4,361.4 424.7,357.6 418.6,353.7 412.4,350.2 406.3,346.9 402.2,344.9 398.1,343 394,341.2 389.9,339.5 385.7,337.9 381.6,336.4 375.5,334.4 369.3,332.6 363.2,331.1 357,329.7 350.9,328.6 344.7,327.6 338.6,326.9 332.4,326.4 326.3,326.1 320.1,326 313.9,326.1 307.8,326.4 301.6,326.9 295.5,327.7 289.3,328.6 283.2,329.7 276.4,331.2 270.9,332.6 266.8,333.8 262.7,335.1 256.5,337.2 252.4,338.7 248.3,340.3 244.2,342.1 240.1,343.9 236,345.9 231.9,348 225.7,351.3 219.6,355 215.1,357.9 209.3,361.8 204.9,365 200.3,368.5 195,372.9 189.8,377.4 184.1,382.7 180.5,386.3 176.5,390.5 172.2,395.2 167.7,400.5 163.5,405.8 159.4,411.2 155.7,416.5 151.9,422.2 148.8,427.2 145.7,432.5 142.7,437.8 139,444.9 136.5,450.3 134.1,455.6 131.1,462.7 129.1,468 127.2,473.4 125.2,477.4 123.2,479.8 121.1,481.4 119,482.6 117,483.5 112.9,485.1 105.8,487.6 100.6,489.7 96.5,491.7 94.3,492.9 91.5,494.7 88.3,496.9 86.2,498.6 84.2,500.3 82.1,502.3 79.3,505.3 77.8,507.1 76,509.5 73.9,512.4 73.9,562.2Z"/>
<path fill="#ff4c00" d="M126.6,562.2 513.6,562.2 513.6,553.3 513.4,548 513.1,542.7 512.5,533.8 511.7,526.7 510.8,519.6 509.9,514.2 508.6,507.1 507.4,501.8 506.1,496.5 504.7,491.1 503.2,485.8 501.5,480.5 499.7,475.1 497.7,469.8 495.6,464.5 493.3,459.1 490,452 487.3,446.7 484.2,441 481.4,436 478.1,430.6 473.5,423.6 469.7,418.3 465.6,412.9 461.3,407.6 456.7,402.3 453.4,398.7 449.3,394.5 444.6,389.8 440.7,386.3 436.6,382.7 432.3,379.2 426.8,375 422.7,372 416.5,367.9 411.8,365 408.3,362.9 404.2,360.6 398.1,357.4 394,355.5 389.9,353.7 385.7,351.9 381.6,350.3 377.5,348.9 371.4,346.8 365.2,345.1 359.1,343.5 355,342.6 350.9,341.9 346.8,341.2 342.7,340.6 338.5,340.1 332.4,339.5 326.3,339.2 320.1,339.1 313.9,339.2 307.8,339.5 301.6,340.1 297.5,340.6 293.4,341.2 289.3,341.9 285.2,342.6 279.1,344 272.9,345.6 266.8,347.5 262.3,349 256.5,351.1 252.4,352.8 248.3,354.6 244.2,356.5 240.1,358.5 233.9,361.7 227.8,365.3 221.6,369.2 217.5,372.1 212.5,375.6 207.3,379.7 203.2,383.1 199.1,386.7 195,390.5 190.2,395.2 186.8,398.7 181.9,404.1 178.5,408 174.4,413.1 170.3,418.5 166.2,424.4 163.2,428.9 159.9,434.3 156.8,439.6 153.8,444.9 151.1,450.3 148.5,455.6 145.4,462.7 143.2,468 141.2,473.4 139.3,478.7 137,485.8 135.5,491.2 134.1,496.5 132.8,501.8 131.3,508.9 130.3,514.2 129.2,521.3 128.3,528.4 127.6,535.6 126.9,544.4 126.7,549.8 126.6,562.2Z"/>
<path fill="#ff3600" d="M139.4,562.2 500.8,562.2 500.8,553.3 500.6,546.2 500.2,539.1 499.8,533.8 499.2,528.4 498.3,521.3 497.4,516 496,508.9 494.4,501.8 493,496.5 491.5,491.1 489.9,485.8 488,480.5 486.1,475.1 483.9,469.8 481.6,464.5 479.2,459.1 475.6,452 472.6,446.7 469.5,441.4 465.8,435.4 462.6,430.7 458.7,425.4 454.6,420 451.4,416.1 447,411.2 443.2,407 438.5,402.3 434.7,398.7 430.7,395.2 426.5,391.6 422,388.1 416.5,384 412,381 408.3,378.6 403.4,375.6 400.1,373.8 396,371.6 391.9,369.5 387.8,367.6 383.7,365.8 379.6,364.1 375.5,362.6 371.4,361.2 365.2,359.3 359.1,357.6 355,356.6 350.9,355.8 346.8,355.1 340.6,354.1 336.5,353.7 332.4,353.3 328.3,353.1 324.2,352.9 320.1,352.8 316,352.9 311.9,353.1 307.8,353.3 303.7,353.7 297.5,354.4 293.4,355.1 287.3,356.2 283.2,357.1 279.1,358.1 272.9,359.9 266.8,361.9 262.7,363.3 258.5,365 254.3,366.7 250.3,368.5 246.2,370.5 242.1,372.6 236,376.1 229.8,379.9 225.6,382.7 219.6,387 215.5,390.2 211.4,393.6 207.3,397.1 203.2,400.9 198.2,405.8 194.8,409.4 190,414.7 186.8,418.6 182.6,423.8 178.5,429.4 174,436 170.3,441.9 167.6,446.7 163.7,453.8 161,459.1 157.8,466.2 155.5,471.6 153.5,476.9 151.5,482.2 149.8,487.6 147.7,494.7 146.2,500 145,505.3 143.5,512.5 142.5,517.8 141.4,524.9 140.8,530.2 140.3,535.6 139.9,540.9 139.5,548 139.4,555.1 139.4,562.2Z"/>
<path fill="#ff1f00" d="M151.2,562.2 489,562.2 489,553.3 488.9,548 488.6,542.7 488.2,537.3 487.7,532 487,526.7 486.2,521.3 485.3,516 484.2,510.7 483,505.3 481.6,500 480,494.7 477.7,487.6 475.8,482.2 473.6,476.9 471.4,471.6 468.9,466.2 465.3,459.1 461.3,452 457.6,446 454.5,441.4 450.7,436 446.6,430.7 443.2,426.6 439,421.8 435,417.5 430.4,412.9 426.6,409.4 422.5,405.8 418.2,402.3 413.5,398.7 410.4,396.4 405.9,393.4 402.2,391 397.2,388.1 394,386.3 389.9,384.1 385.7,382.1 381.6,380.3 377.5,378.6 373.4,377 369.3,375.5 363.2,373.6 357,371.9 352.9,370.9 348.8,370.1 344.7,369.4 340.6,368.8 336.5,368.3 332.4,367.9 328.3,367.6 324.2,367.4 320.1,367.4 316,367.4 311.9,367.6 307.8,367.9 303.7,368.3 299.6,368.8 295.5,369.4 289.3,370.5 285.2,371.4 281.1,372.4 275,374.2 270.6,375.6 264.7,377.8 260.6,379.4 256.5,381.2 252.4,383.1 248.3,385.2 242.1,388.6 237.1,391.6 233.9,393.6 229.1,396.9 223.7,401 219.6,404.2 215.5,407.7 211.4,411.4 207.3,415.4 202.8,420 199.1,424.2 195,429 192.2,432.5 188.2,437.8 184.5,443.1 180.6,449.3 177.9,453.8 174,460.9 171.3,466.2 168.8,471.6 165.8,478.7 163.8,484 161.9,489.4 160.1,495.1 158.6,500 157.2,505.3 156,510.8 154.9,516 153.7,523.1 152.9,528.4 152.3,533.8 151.8,539.1 151.5,544.4 151.3,549.8 151.2,562.2Z"/>
<path fill="#ff0800" d="M162.7,562.2 477.5,562.2 477.5,553.3 477.4,548 477.1,542.7 476.7,537.3 475.8,530.2 475.1,524.9 473.8,517.8 472.6,512.5 471.3,507.1 469.8,501.8 467.5,494.7 465.6,489.4 463.5,484 461.2,478.7 458.6,473.4 455.5,467.3 452.9,462.7 450.8,459.1 447.3,453.6 445,450.3 442.4,446.7 439.1,442.3 435,437.4 430.7,432.5 426.8,428.4 422.7,424.4 417.8,420 413.6,416.5 408.3,412.4 404,409.4 400.1,406.8 395.8,404.1 391.9,401.8 387.8,399.6 381.6,396.6 377.5,394.7 373.4,393 369.3,391.5 363.2,389.4 358.6,388.1 355,387.1 350.9,386.2 346.8,385.3 340.6,384.3 336.5,383.8 332.4,383.4 328.3,383.1 324.2,382.9 320.1,382.8 316,382.9 311.9,383.1 307.8,383.4 303.7,383.8 297.5,384.6 293.4,385.3 287.3,386.6 281.1,388.2 275,390.1 270.5,391.6 264.7,393.9 260.6,395.6 256.5,397.5 252.4,399.6 247.5,402.3 244.2,404.2 240.1,406.8 236,409.5 231.2,412.9 225.7,417.2 221.6,420.7 217.5,424.4 212.9,428.9 209.3,432.7 204.8,437.8 200.5,443.1 196.5,448.5 192.8,453.8 190.5,457.4 188.3,460.9 184.7,467.3 182.4,471.6 179.9,476.9 177.5,482.2 175.3,487.6 173.3,492.9 171.5,498.2 169.9,503.6 168,510.7 166.8,516 165.8,521.3 164.9,526.7 164.1,532 163.5,537.3 163.1,542.7 162.8,548 162.7,553.3 162.7,562.2Z"/>
<path fill="#f10000" d="M174.9,562.2 465.3,562.2 465.2,553.3 465.1,548 464.8,542.7 464.3,537.3 463.7,532 462.8,526.7 461.7,520.7 460.6,516 459.2,510.7 457.6,505.1 455.2,498.2 453.2,492.9 450.9,487.6 449.2,484 446.5,478.7 444.6,475.1 442.6,471.6 440.4,468 436.9,462.7 434.4,459.1 430.3,453.8 426.8,449.6 424.2,446.7 420.6,442.9 416.5,438.8 412.4,435 408.3,431.5 404.2,428.3 400.1,425.3 395,421.8 391.9,419.9 387.8,417.5 382.7,414.7 377.5,412.2 373.4,410.4 369.3,408.7 365.2,407.2 361.1,405.8 357,404.6 352.9,403.5 346.8,402.2 342.7,401.4 338.6,400.8 334.5,400.3 330.4,399.9 326.3,399.6 322.2,399.5 318,399.5 313.9,399.6 309.8,399.9 305.7,400.3 301.6,400.8 297.5,401.4 292.8,402.3 289.3,403 285.2,404.1 281.1,405.2 277,406.5 272.9,408 268.8,409.5 264.7,411.3 260.6,413.2 256.5,415.2 252.4,417.5 248,420 244.2,422.5 239.9,425.4 235.2,428.9 229.8,433.2 225.7,436.9 221,441.4 217.5,445 212.8,450.3 209.3,454.6 207.2,457.4 204.6,460.9 200.9,466.2 198.7,469.8 196.6,473.4 194.6,476.9 192.7,480.5 190.1,485.8 188.5,489.4 186.3,494.7 184.3,500 182.6,505.3 181,510.7 179.6,516 178.4,521.3 177.4,526.7 176.5,532.4 175.9,537.3 175.4,542.7 175.1,548 175,553.3 174.9,562.2Z"/>
<path fill="#da0000" d="M188.8,562.2 451.4,562.2 451.4,553.3 451.2,548 450.8,542.7 450.3,537.3 449.2,530.2 448.2,524.9 446.9,519.6 445.2,513.6 443.7,508.9 441.8,503.6 439.6,498.2 437,492.7 434.4,487.6 432.4,484 430.3,480.5 428,476.9 424.3,471.6 420.2,466.2 416.5,461.9 414,459.1 410.4,455.4 406.3,451.5 402.2,447.9 398.1,444.6 393.7,441.4 389.9,438.7 385.6,436 381.6,433.8 377.5,431.6 373.4,429.6 369.3,427.8 365.2,426.1 361.1,424.6 357,423.3 350.9,421.6 346.8,420.6 342.7,419.8 338.6,419.1 334.5,418.5 330.4,418.1 326.3,417.9 322.2,417.7 318,417.7 313.9,417.9 307.8,418.3 303.7,418.8 299.6,419.4 295.5,420.2 291.4,421.1 287.3,422.1 281.1,423.9 276.9,425.4 272.3,427.2 268.2,428.9 264.4,430.7 260.6,432.6 256.5,434.9 251.7,437.8 248.3,440.1 244,443.1 239.5,446.7 235.3,450.3 231.4,453.8 227.8,457.4 223.7,461.9 221.4,464.5 218.6,468 215.5,472.1 213.4,475.1 211,478.7 208.8,482.2 206.8,485.8 204.8,489.4 203,492.9 200.6,498.2 199.1,501.9 197,507.4 194.8,514.2 193.3,519.6 192,524.9 190.7,532 189.9,537.3 189.4,542.7 189,548 188.8,553.3 188.8,562.2Z"/>
<path fill="#c30000" d="M204.8,562.2 435.4,562.2 435.4,553.3 435.2,548 435,544.4 434.4,539.1 433.5,533.8 432.8,530.2 431.5,524.9 430.5,521.3 428.8,516 426.8,510.6 424.5,505.3 422.7,501.6 420.6,497.7 418.6,494.2 416.5,490.9 414.3,487.6 411.7,484 408.3,479.7 405.9,476.9 402.2,472.9 398.1,468.9 394,465.2 389.9,461.9 385.7,458.9 380.8,455.6 377.5,453.6 373.4,451.4 369.3,449.3 365.2,447.4 361.1,445.8 357,444.3 352.9,442.9 348.8,441.8 344.7,440.8 340.6,440 336.5,439.3 332.4,438.8 328.3,438.4 324.2,438.2 320.1,438.1 316,438.2 311.9,438.4 307.8,438.8 303.7,439.3 299.6,440 295.5,440.8 291.4,441.8 286.6,443.1 283.2,444.3 279.1,445.8 275,447.4 270.9,449.3 266.8,451.4 262.4,453.8 258.6,456.1 254.1,459.1 250.3,461.9 246.2,465.2 242.1,468.9 239.3,471.6 235.9,475.1 231.9,479.7 229.8,482.3 227.2,485.8 224.7,489.4 221.3,494.7 219.3,498.2 217.4,501.8 215.5,505.9 213.4,510.7 211.4,516.1 209.7,521.3 208.7,524.9 207.3,530.8 206.4,535.6 205.6,540.9 205.1,546.2 204.8,551.5 204.8,562.2Z"/>
<path fill="#ad0000" d="M223.5,562.2 416.7,562.2 416.7,553.3 416.4,548 416.1,544.4 415.6,540.9 414.9,537.3 414.2,533.8 413.2,530.2 412.1,526.7 410.2,521.3 408.3,517 406,512.5 404,508.9 401.8,505.3 399.4,501.8 396,497.4 393.7,494.7 391.9,492.7 387.8,488.5 383.7,484.9 379.6,481.6 377.5,480.1 375.5,478.6 371.4,476 366.7,473.4 363.2,471.6 359.1,469.7 354.8,468 350.9,466.7 346.8,465.4 342.7,464.4 338.6,463.5 332.4,462.6 328.3,462.1 324.2,461.9 320.1,461.8 316,461.9 311.9,462.1 305.7,462.8 301.6,463.5 297.1,464.5 293.4,465.4 289.3,466.7 285.2,468.1 280.9,469.8 277,471.6 272.9,473.7 268.8,476 264.6,478.7 260.6,481.6 256.5,484.9 252.4,488.5 249.8,491.1 248.1,492.9 246.2,494.9 243.5,498.2 240.8,501.8 238,505.8 236,509.2 233.9,512.9 231.5,517.8 229.8,521.8 228.7,524.9 227.5,528.4 226.5,532 225.6,535.6 224.9,539.1 224.3,542.7 223.9,546.2 223.6,549.8 223.5,553.3 223.5,562.2Z"/>
<path fill="#960000" d="M248.7,562.2 391.5,562.2 391.5,555.1 391.4,551.5 391.1,548 390.5,544.4 389.7,540.9 388.7,537.3 387.4,533.8 385.7,530.1 383.7,526.3 381.6,522.9 379.2,519.6 377.5,517.4 374.7,514.2 372.9,512.5 371,510.7 369,508.9 366.8,507.1 363.2,504.6 361.1,503.2 358.7,501.8 355,499.8 350.9,497.9 346.8,496.3 342.7,495 338.6,493.9 333.8,492.9 330.4,492.4 326.3,492 322.2,491.8 318,491.8 313.9,492 309.8,492.4 305.7,493 301.6,493.9 297.5,495 293,496.5 288.6,498.2 284.8,500 281.1,502 278.5,503.6 275,506 272.9,507.5 270.9,509.2 268.8,511 266.8,513 263.9,516 262.4,517.8 260.6,520 258.4,523.1 256.3,526.7 254.4,530.2 252.8,533.8 251.5,537.3 250.3,541.5 249.7,544.4 249.1,548 248.8,551.5 248.7,555.1 248.7,562.2Z"/>
</g>
<g stroke="rgba(38,38,38,0.15)" stroke-width="1" fill="none">
<line x1="73.92" y1="22.0" x2="73.92" y2="555.1"/>
<line x1="155.98" y1="22.0" x2="155.98" y2="555.1"/>
<line x1="238.04" y1="22.0" x2="238.04" y2="555.1"/>
<line x1="320.10" y1="22.0" x2="320.10" y2="555.1"/>
<line x1="402.16" y1="22.0" x2="402.16" y2="555.1"/>
<line x1="484.22" y1="22.0" x2="484.22" y2="555.1"/>
<line x1="566.28" y1="22.0" x2="566.28" y2="555.1"/>
<line x1="53.4" y1="377.40" x2="586.8" y2="377.40"/>
<line x1="53.4" y1="199.70" x2="586.8" y2="199.70"/>
</g>
<g fill="none" stroke="#000" stroke-width="2.9" stroke-linejoin="round"><path d="M94.4,555.1 96,551.5 97.6,548 99.2,544.4 100.7,540.9 102.3,537.3 103.9,533.8 105.4,530.2 107,526.7 108.5,523.1 110,519.6 111.6,516 113.1,512.5 114.6,508.9 116.1,505.3 117.6,501.8 119.1,498.2 120.6,494.7 122.1,491.1 123.6,487.6 125,484 126.5,480.5 128,476.9 129.4,473.4 130.9,469.8 132.3,466.2 133.7,462.7 135.1,459.1 136.5,455.6 137.9,452 139.3,448.5 140.7,444.9 142.1,441.4 143.4,437.8 144.8,434.3 146.1,430.7 147.5,427.2 148.8,423.6 150.1,420 151.4,416.5 152.7,412.9 154,409.4 155.2,405.8 156.5,402.3 157.7,398.7 158.9,395.2 160.2,391.6 161.4,388.1 162.5,384.5 163.7,381 164.9,377.4 166,373.8 167.1,370.3 168.3,366.7 169.4,363.2 170.4,359.6 171.5,356.1 172.6,352.5 173.6,349 174.6,345.4 175.6,341.9 176.6,338.3 177.6,334.8 178.5,331.2 179.4,327.6 180.3,324.1 181.2,320.5 182.1,317 182.9,313.4 183.8,309.9 184.6,306.3 185.3,302.8 186.1,299.2 186.8,295.7 187.5,292.1 188.2,288.6 188.9,285 189.5,281.4 190.2,277.9 190.8,274.3 191.3,270.8 191.9,267.2 192.4,263.7 192.9,260.1 193.3,256.6 193.8,253 194.2,249.5 194.6,245.9 194.9,242.3 195.3,238.8 195.6,235.2 195.8,231.7 196.1,228.1 196.3,224.6 196.5,221 196.6,217.5 196.8,213.9 196.9,210.4 196.9,206.8 197,203.3 197,199.7 197,196.1 196.9,192.6 196.9,189 196.8,185.5 196.6,181.9 196.5,178.4 196.3,174.8 196.1,171.3 195.8,167.7 195.6,164.2 195.3,160.6 194.9,157.1 194.6,153.5 194.2,149.9 193.8,146.4 193.3,142.8 192.9,139.3 192.4,135.7 191.9,132.2 191.3,128.6 190.8,125.1 190.2,121.5 189.5,118 188.9,114.4 188.2,110.8 187.5,107.3 186.8,103.7 186.1,100.2 185.3,96.6 184.6,93.1 183.8,89.5 182.9,86 182.1,82.4 181.2,78.9 180.3,75.3 179.4,71.8 178.5,68.2 177.6,64.6 176.6,61.1 175.6,57.5 174.6,54 173.6,50.4 172.6,46.9 171.5,43.3 170.4,39.8 169.4,36.2 168.3,32.7 167.1,29.1 166,25.6 164.9,22"/><path d="M545.8,555.1 544.2,551.5 542.6,548 541,544.4 539.5,540.9 537.9,537.3 536.3,533.8 534.8,530.2 533.2,526.7 531.7,523.1 530.2,519.6 528.6,516 527.1,512.5 525.6,508.9 524.1,505.3 522.6,501.8 521.1,498.2 519.6,494.7 518.1,491.1 516.6,487.6 515.2,484 513.7,480.5 512.2,476.9 510.8,473.4 509.3,469.8 507.9,466.2 506.5,462.7 505.1,459.1 503.7,455.6 502.3,452 500.9,448.5 499.5,444.9 498.1,441.4 496.8,437.8 495.4,434.3 494.1,430.7 492.7,427.2 491.4,423.6 490.1,420 488.8,416.5 487.5,412.9 486.2,409.4 485,405.8 483.7,402.3 482.5,398.7 481.3,395.2 480,391.6 478.8,388.1 477.7,384.5 476.5,381 475.3,377.4 474.2,373.8 473.1,370.3 471.9,366.7 470.8,363.2 469.8,359.6 468.7,356.1 467.6,352.5 466.6,349 465.6,345.4 464.6,341.9 463.6,338.3 462.6,334.8 461.7,331.2 460.8,327.6 459.9,324.1 459,320.5 458.1,317 457.3,313.4 456.4,309.9 455.6,306.3 454.9,302.8 454.1,299.2 453.4,295.7 452.7,292.1 452,288.6 451.3,285 450.7,281.4 450,277.9 449.4,274.3 448.9,270.8 448.3,267.2 447.8,263.7 447.3,260.1 446.9,256.6 446.4,253 446,249.5 445.6,245.9 445.3,242.3 444.9,238.8 444.6,235.2 444.4,231.7 444.1,228.1 443.9,224.6 443.7,221 443.6,217.5 443.4,213.9 443.3,210.4 443.3,206.8 443.2,203.3 443.2,199.7 443.2,196.1 443.3,192.6 443.3,189 443.4,185.5 443.6,181.9 443.7,178.4 443.9,174.8 444.1,171.3 444.4,167.7 444.6,164.2 444.9,160.6 445.3,157.1 445.6,153.5 446,149.9 446.4,146.4 446.9,142.8 447.3,139.3 447.8,135.7 448.3,132.2 448.9,128.6 449.4,125.1 450,121.5 450.7,118 451.3,114.4 452,110.8 452.7,107.3 453.4,103.7 454.1,100.2 454.9,96.6 455.6,93.1 456.4,89.5 457.3,86 458.1,82.4 459,78.9 459.9,75.3 460.8,71.8 461.7,68.2 462.6,64.6 463.6,61.1 464.6,57.5 465.6,54 466.6,50.4 467.6,46.9 468.7,43.3 469.8,39.8 470.8,36.2 471.9,32.7 473.1,29.1 474.2,25.6 475.3,22"/></g>
</g>
<g stroke="#262626" stroke-width="0.8" fill="none">
<rect x="53.4" y="22.0" width="533.4" height="533.1"/>
<line x1="73.92" y1="555.1" x2="73.92" y2="549.8000000000001"/>
<line x1="73.92" y1="22.0" x2="73.92" y2="27.3"/>
<line x1="155.98" y1="555.1" x2="155.98" y2="549.8000000000001"/>
<line x1="155.98" y1="22.0" x2="155.98" y2="27.3"/>
<line x1="238.04" y1="555.1" x2="238.04" y2="549.8000000000001"/>
<line x1="238.04" y1="22.0" x2="238.04" y2="27.3"/>
<line x1="320.10" y1="555.1" x2="320.10" y2="549.8000000000001"/>
<line x1="320.10" y1="22.0" x2="320.10" y2="27.3"/>
<line x1="402.16" y1="555.1" x2="402.16" y2="549.8000000000001"/>
<line x1="402.16" y1="22.0" x2="402.16" y2="27.3"/>
<line x1="484.22" y1="555.1" x2="484.22" y2="549.8000000000001"/>
<line x1="484.22" y1="22.0" x2="484.22" y2="27.3"/>
<line x1="566.28" y1="555.1" x2="566.28" y2="549.8000000000001"/>
<line x1="566.28" y1="22.0" x2="566.28" y2="27.3"/>
<line x1="53.4" y1="377.40" x2="58.699999999999996" y2="377.40"/>
<line x1="586.8" y1="377.40" x2="581.5" y2="377.40"/>
<line x1="53.4" y1="199.70" x2="58.699999999999996" y2="199.70"/>
<line x1="586.8" y1="199.70" x2="581.5" y2="199.70"/>
</g>
<rect x="601.4" y="22.0" width="22.399999999999977" height="533.1" fill="url(#jet)"/>
<g stroke="#262626" stroke-width="0.8" fill="none">
<rect x="601.4" y="22.0" width="22.399999999999977" height="533.1"/>
<line x1="623.8" y1="513.01" x2="618.3" y2="513.01"/>
<line x1="623.8" y1="442.87" x2="618.3" y2="442.87"/>
<line x1="623.8" y1="372.72" x2="618.3" y2="372.72"/>
<line x1="623.8" y1="302.58" x2="618.3" y2="302.58"/>
<line x1="623.8" y1="232.43" x2="618.3" y2="232.43"/>
<line x1="623.8" y1="162.29" x2="618.3" y2="162.29"/>
<line x1="623.8" y1="92.14" x2="618.3" y2="92.14"/>
</g>
<g font-family="'Liberation Sans', Arial, Helvetica, sans-serif" fill="#262626" font-size="14.67">
<text x="73.9" y="573.8" text-anchor="middle">-60</text>
<text x="156" y="573.8" text-anchor="middle">-40</text>
<text x="238" y="573.8" text-anchor="middle">-20</text>
<text x="320.1" y="573.8" text-anchor="middle">0</text>
<text x="402.2" y="573.8" text-anchor="middle">20</text>
<text x="484.2" y="573.8" text-anchor="middle">40</text>
<text x="566.3" y="573.8" text-anchor="middle">60</text>
<text x="47.9" y="560.3" text-anchor="end">0</text>
<text x="47.9" y="382.6" text-anchor="end">50</text>
<text x="47.9" y="204.9" text-anchor="end">100</text>
<text x="47.9" y="27.2" text-anchor="end">150</text>
<text x="629.4" y="517.2" font-size="13.33">30</text>
<text x="629.4" y="447.1" font-size="13.33">35</text>
<text x="629.4" y="376.9" font-size="13.33">40</text>
<text x="629.4" y="306.8" font-size="13.33">45</text>
<text x="629.4" y="236.6" font-size="13.33">50</text>
<text x="629.4" y="166.5" font-size="13.33">55</text>
<text x="629.4" y="96.3" font-size="13.33">60</text>
<text x="629.4" y="26.2" font-size="13.33">65</text>
<text x="320.4" y="593" text-anchor="middle" font-size="16.13">x (m)</text>
<text transform="translate(14.1,288.7) rotate(-90)" text-anchor="middle" font-size="16.13">z (m)</text>
<text transform="translate(660.2,288.7) rotate(-90)" text-anchor="middle" font-weight="bold" font-size="13.33" fill="#000">Temperatura (°C)</text>
<text x="320.1" y="13.1" text-anchor="middle" font-size="16.13" font-weight="bold" fill="#000" word-spacing="4.76" xml:space="preserve">Sección vertical de T(<tspan font-style="italic">ρ</tspan>,z) en el eje central de la torre</text>
</g>
</svg>
</body></html>
